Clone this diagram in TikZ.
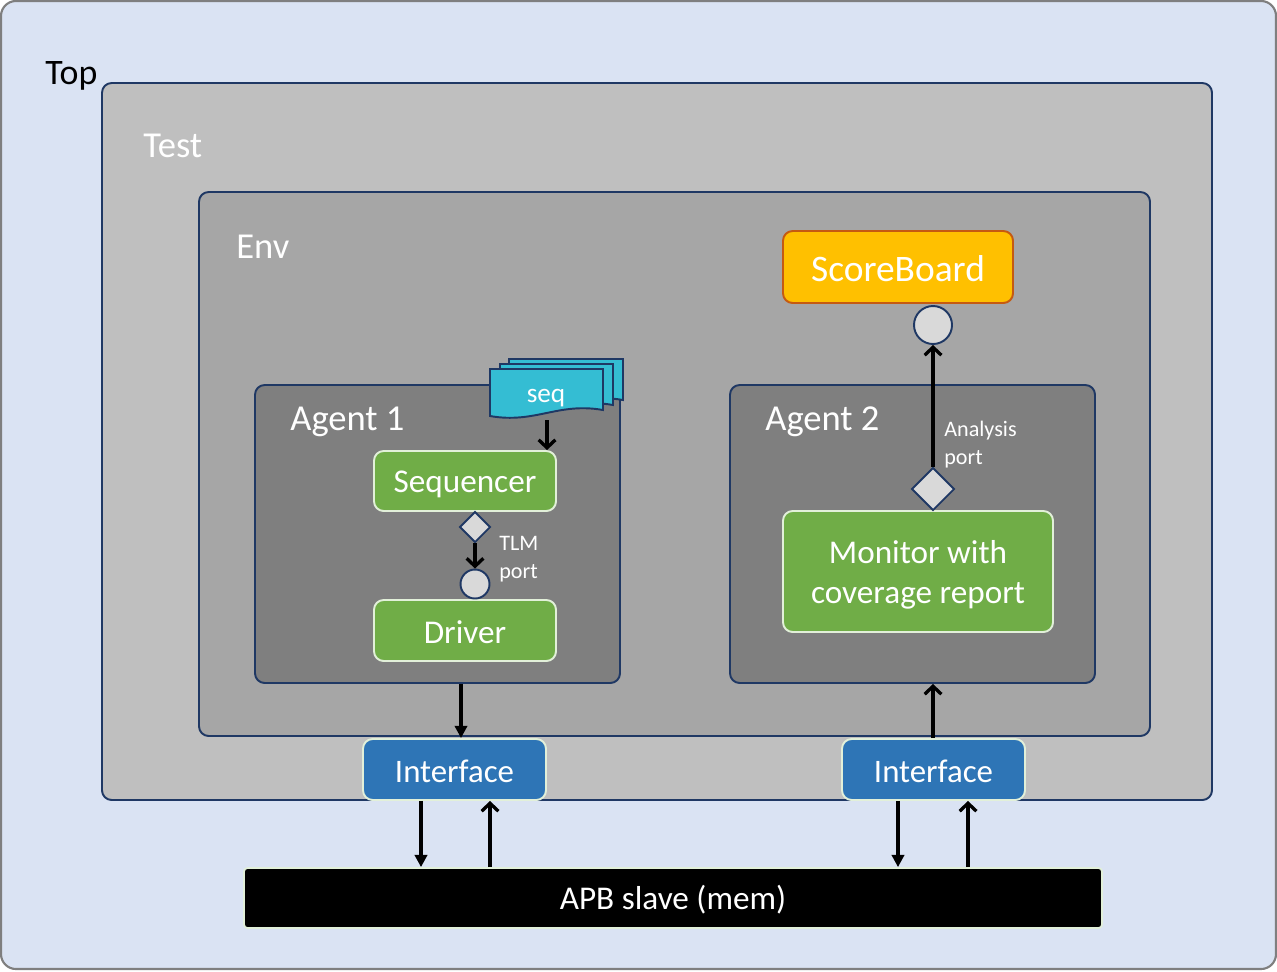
\documentclass[tikz,border=0pt]{standalone}
\usepackage{fontspec}
\setmainfont{Carlito}
\usetikzlibrary{fit,arrows.meta,shapes.geometric}
\definecolor{topfill}{HTML}{DAE3F3}
\definecolor{topline}{HTML}{7F7F7F}
\definecolor{navy}{HTML}{1F3864}
\definecolor{testfill}{HTML}{BFBFBF}
\definecolor{envfill}{HTML}{A6A6A6}
\definecolor{agentfill}{HTML}{7F7F7F}
\definecolor{greenfill}{HTML}{70AD47}
\definecolor{paleline}{HTML}{E2F0D9}
\definecolor{bluefill}{HTML}{2E75B6}
\definecolor{orangefill}{HTML}{FFC000}
\definecolor{orangeline}{HTML}{C55A11}
\definecolor{seqfill}{HTML}{34BDD3}
\definecolor{portfill}{HTML}{D9D9D9}
\tikzset{
  container/.style={draw=navy, line width=1.1pt, rounded corners=5.5pt, inner sep=0pt},
  title/.style={anchor=base west, inner sep=0pt, font=\fontsize{20.8}{24}\selectfont, text=white},
  greenbox/.style={draw=paleline, fill=greenfill, line width=1.1pt, rounded corners=5.5pt, inner sep=0pt},
  bluebox/.style={draw=paleline, fill=bluefill, line width=1.1pt, rounded corners=5.5pt, inner sep=0pt},
  boxtext/.style={text=white, font=\fontsize{18.9}{22.7}\selectfont, align=center, inner sep=0pt},
  smalllabel/.style={anchor=west, inner sep=0pt, text=white, align=left, font=\fontsize{12.6}{16}\selectfont},
  portcircle/.style={circle, draw=navy, fill=portfill, line width=1.1pt, inner sep=0pt},
  portdiamond/.style={diamond, draw=navy, fill=portfill, line width=1.1pt, inner sep=0pt, aspect=1},
  seqdoc/.style={draw=navy, fill=seqfill, line width=1.1pt},
  filledarrow/.style={line width=1.9pt, -{Triangle[length=7pt,width=7pt]}},
  openarrow/.style={line width=1.9pt, -{Straight Barb[length=4.5pt,width=9.5pt]}},
}
\newcommand\mydoc[4]{%
  \draw[seqdoc] (#1,#2) -- (#3,#2) -- (#3,#4-8)
     .. controls ({#3-0.4*(#3-#1)},#4-16) and ({#3-0.6*(#3-#1)},#4+6) .. (#1,#4-2) -- cycle;}
\begin{document}
\begin{tikzpicture}[x=0.02cm,y=-0.02cm]
\useasboundingbox (0,0) rectangle (1277,971);
% containers
\node[fit={(1,1)(1276,969)}, inner sep=0pt, draw=topline, fill=topfill, line width=1.2pt, rounded corners=8.5pt] (top) {};
\node[anchor=base west, inner sep=0pt, font=\fontsize{20.4}{24}\selectfont] (toplabel) at (45,84) {Top};
\node[container, fill=testfill, fit={(102,83)(1212,800)}] (test) {};
\node[title] (testlabel) at (143,157) {Test};
\node[container, fill=envfill, fit={(199,192)(1150,736)}] (env) {};
\node[title] (envlabel) at (236,258) {Env};
\node[container, fill=agentfill, fit={(255,385)(620,683)}] (agent1) {};
\node[title] (agent1label) at (290,430) {Agent 1};
\node[container, fill=agentfill, fit={(730,385)(1095,683)}] (agent2) {};
\node[title] (agent2label) at (765,430) {Agent 2};
% scoreboard
\node[draw=orangeline, fill=orangefill, line width=1.1pt, rounded corners=5.5pt, inner sep=0pt,
      fit={(783,231)(1013,303)}] (sb) {};
\node[boxtext, font=\fontsize{21.3}{25}\selectfont] (sblabel) at (898,269) {ScoreBoard};
\node[portcircle, minimum size=0.76cm] (sbport) at (933,325) {};
% agent 1 internals
\node[greenbox, fit={(374,451)(556,511)}] (seqr) {};
\node[boxtext] (seqrlabel) at (465,484) {Sequencer};
\node[greenbox, fit={(374,600)(556,661)}] (drv) {};
\node[boxtext] (drvlabel) at (465,632) {Driver};
\node[portdiamond, minimum width=0.62cm, minimum height=0.62cm] (tlmexp) at (475,527) {};
\node[portcircle, minimum size=0.58cm] (tlmimp) at (475,584) {};
\node[smalllabel] (tlmlabel) at (499,559) {TLM\\port};
% seq stack
\mydoc{509}{359}{623}{408}
\mydoc{500}{364}{613}{413}
\mydoc{490}{369}{603}{418}
\node[text=white, font=\fontsize{15.5}{18}\selectfont, inner sep=0pt] (seq) at (546,398) {seq};
\coordinate (seqbot) at (547,420);
% agent 2 internals
\node[greenbox, fit={(783,511)(1053,632)}] (mon) {};
\node[boxtext] (monlabel) at (918,575) {Monitor with\\coverage report};
\node[portdiamond, minimum width=0.86cm, minimum height=0.86cm] (ap) at (933,489) {};
\node[smalllabel] (aplabel) at (944,445) {Analysis\\port};
% interfaces
\node[bluebox, fit={(363,739)(546,800)}] (if1) {};
\node[boxtext, font=\fontsize{18.7}{22}\selectfont] (if1label) at (454.5,771) {Interface};
\node[bluebox, fit={(842,739)(1025,800)}] (if2) {};
\node[boxtext, font=\fontsize{18.7}{22}\selectfont] (if2label) at (933.5,771) {Interface};
% APB
\node[draw=paleline, fill=black, line width=1pt, rounded corners=2pt, inner sep=0pt, fit={(244,868)(1102,928)}] (apb) {};
\node[boxtext] (apblabel) at (673,900) {APB slave (mem)};
% helper x positions
\coordinate (x461) at (461,0);
\coordinate (x421) at (421,0);
\coordinate (x490) at (490,0);
\coordinate (x898) at (898,0);
\coordinate (x968) at (968,0);
\coordinate (x933) at (933,0);
% connectors
\draw[openarrow] (seqbot) -- (seqbot |- seqr.north);
\draw[openarrow] (tlmexp.south) -- (tlmimp.north);
\draw[openarrow] (ap.north) -- (sbport.south);
\draw[filledarrow] (agent1.south -| x461) -- (if1.north -| x461);
\draw[filledarrow] (if1.south -| x421) -- (apb.north -| x421);
\draw[openarrow] (apb.north -| x490) -- (if1.south -| x490);
\draw[openarrow] (if2.north -| x933) -- (agent2.south -| x933);
\draw[filledarrow] (if2.south -| x898) -- (apb.north -| x898);
\draw[openarrow] (apb.north -| x968) -- (if2.south -| x968);
\end{tikzpicture}
\end{document}
